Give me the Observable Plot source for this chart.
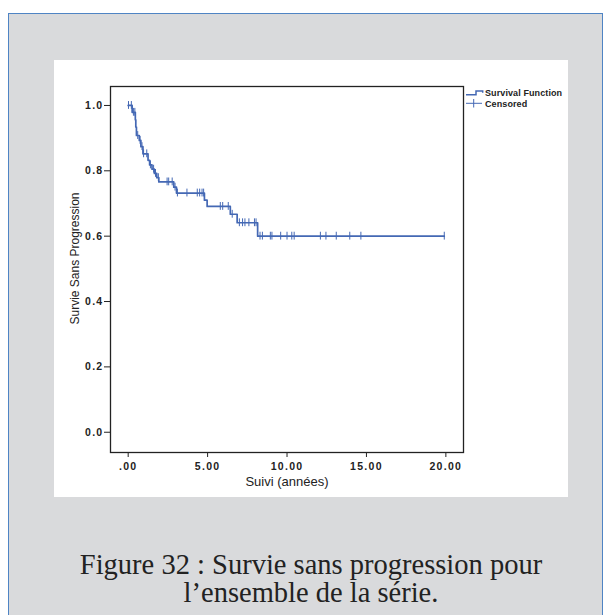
<!DOCTYPE html>
<html><head><meta charset="utf-8">
<script src="https://cdn.jsdelivr.net/npm/d3@7"></script>
<script src="https://cdn.jsdelivr.net/npm/@observablehq/plot@0.6"></script>
<style>
body{margin:0;background:#fff;width:605px;height:615px;overflow:hidden;position:relative;font-family:"Liberation Sans",Arial,sans-serif}
#outer{position:absolute;left:8px;top:13px;width:595px;height:640px;background:#d9dadc;border:1.5px solid #4f84c4;box-sizing:border-box}
#panel{position:absolute;left:54px;top:60px;width:514px;height:437px;background:#fff}
#panel svg{display:block}
#legend{position:absolute;left:462px;top:84px}
.cap{position:absolute;left:0;width:622px;text-align:center;font-family:"Liberation Serif","Times New Roman",serif;font-size:28.5px;line-height:26px;color:#222;white-space:nowrap}
g[aria-label="x-axis tick label"] text, g[aria-label="y-axis tick label"] text{font-weight:bold;letter-spacing:1.3px}
</style></head>
<body>
<div id="outer"></div>
<div id="panel"></div>
<svg id="legend" width="110" height="30" font-family="Liberation Sans, Arial, sans-serif" font-size="9" font-weight="bold">
  <path d="M4,10.7H14V7H20.7V8.7" fill="none" stroke="#4468b4" stroke-width="1.5"/>
  <text x="23" y="11.9" fill="#222" letter-spacing="0.1">Survival Function</text>
  <path d="M4,19.3H20M11.7,15V23.5" fill="none" stroke="#4468b4" stroke-width="1"/>
  <text x="23" y="22.9" fill="#222" letter-spacing="0.1">Censored</text>
</svg>
<div class="cap" style="top:552.4px">Figure 32 : Survie sans progression pour</div>
<div class="cap" style="top:580.4px">l’ensemble de la série.</div>
<script>
// Kaplan-Meier step function (time in years, survival after the step)
const stepTimes = [0, 0.25, 0.45, 0.48, 0.52, 0.70, 0.80, 0.93, 1.25, 1.35, 1.50, 1.65, 1.80, 1.93, 2.87, 3.04, 4.80, 4.97, 6.43, 6.86, 8.15, 19.9];
const stepSurv  = [1.000, 0.979, 0.956, 0.934, 0.908, 0.893, 0.874, 0.852, 0.832, 0.818, 0.805, 0.792, 0.779, 0.766, 0.750, 0.732, 0.710, 0.691, 0.667, 0.641, 0.600, 0.600];
// censored observations (years)
const censoredTimes = [0.02, 0.2, 0.33, 0.42, 0.6, 0.75, 0.87, 0.97, 1.17, 1.4, 1.6, 1.72, 1.9, 2.45, 2.55, 2.77, 2.95, 3.1, 3.7, 4.35, 4.5, 4.65, 4.75, 5.8, 5.95, 6.3, 6.55, 7.0, 7.2, 7.35, 7.6, 7.95, 8.05, 8.3, 8.45, 8.95, 9.05, 9.6, 10.0, 10.3, 10.45, 12.1, 12.45, 13.1, 13.95, 14.65, 19.9];
const xTicks = [0, 5, 10, 15, 20];
const yTicks = [0, 0.2, 0.4, 0.6, 0.8, 1.0];

const steps = stepTimes.map((t, i) => ({t, s: stepSurv[i]}));
function survAt(t) {
  let s = 1;
  for (let i = 0; i < stepTimes.length; i++) if (stepTimes[i] <= t) s = stepSurv[i];
  return s;
}
const censored = censoredTimes.map(t => ({t, s: survAt(t)}));
const blue = "#4468b4";

const chart = Plot.plot({
  width: 514, height: 437,
  marginLeft: 56, marginTop: 26, marginRight: 105, marginBottom: 45,
  x: {domain: [-1.113, 21.11]},
  y: {domain: [-0.062, 1.058]},
  style: {background: "white", fontFamily: "Liberation Sans, Arial, sans-serif", fontSize: "10.5px", color: "#222"},
  marks: [
    Plot.axisX(xTicks, {tickSize: 5, tickPadding: 5, tickFormat: d => d === 0 ? ".00" : d.toFixed(2), label: null, fontWeight: "bold", fontSize: 10.5}),
    Plot.axisY(yTicks, {tickSize: 6, tickPadding: 1, tickFormat: d => d.toFixed(1), label: null, fontWeight: "bold", fontSize: 10.5}),
    Plot.text(["Suivi (années)"], {text: d => d, frameAnchor: "bottom", lineAnchor: "middle", textAnchor: "middle", dy: 29, fontSize: 13, fill: "#222", style: "letter-spacing:0.9px"}),
    Plot.text(["Survie Sans Progression"], {text: d => d, frameAnchor: "left", textAnchor: "middle", lineAnchor: "middle", dx: -35, dy: -11, rotate: -90, fontSize: 12, fill: "#222"}),
    Plot.line(steps, {x: "t", y: "s", curve: "step-after", stroke: blue, strokeWidth: 1.7}),
    Plot.ruleX(censored, {x: "t", y1: d => d.s - 0.012, y2: d => d.s + 0.012, stroke: blue, strokeWidth: 1}),
    Plot.frame({stroke: "#222", strokeWidth: 1.3})
  ]
});
document.getElementById("panel").appendChild(chart);
</script>
</body></html>
